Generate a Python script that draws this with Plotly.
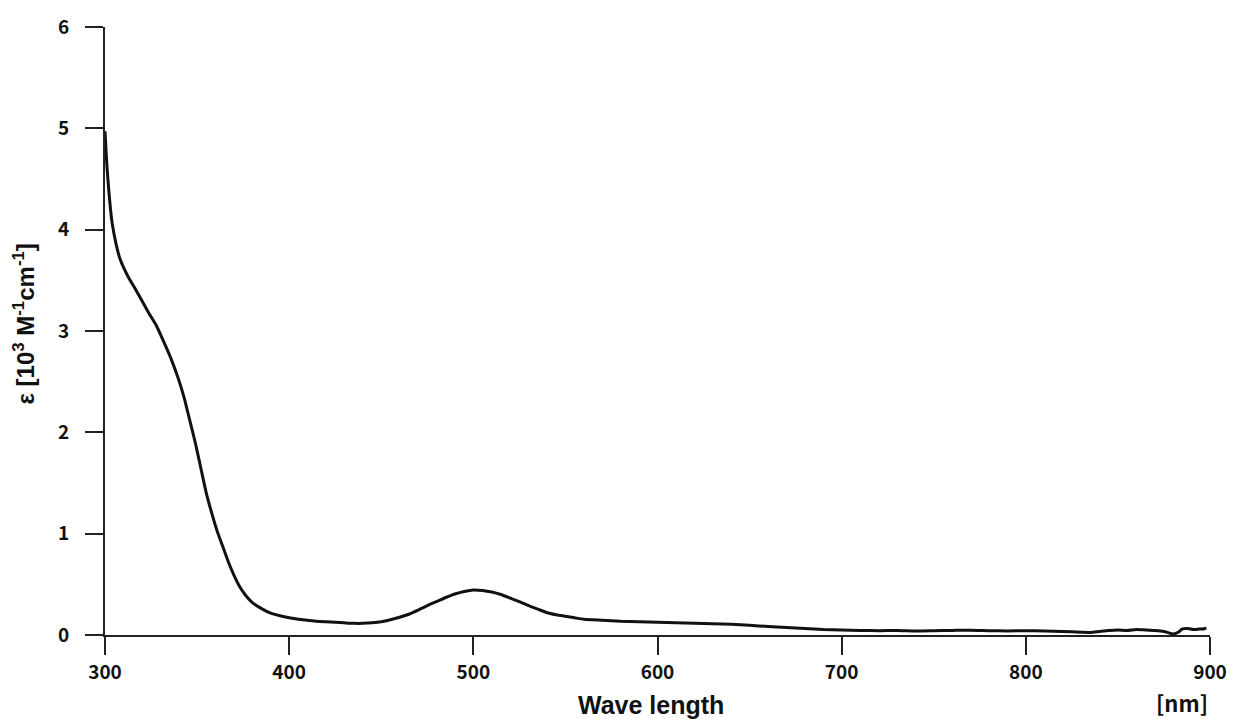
import plotly.graph_objects as go

# Absorption spectrum: wavelength (nm) vs molar absorptivity (10^3 M^-1 cm^-1)
wavelength = [
    300, 301, 302, 303, 304, 306, 308, 310, 313, 316, 320, 324, 328, 332, 336,
    340, 343, 346, 349, 352, 355, 358, 361, 364, 367, 370, 373, 376, 380, 385,
    390, 395, 400, 405, 410, 415, 420, 425, 430, 435, 440, 445, 450, 455, 460,
    465, 470, 475, 480, 485, 490, 495, 500, 505, 510, 515, 520, 525, 530, 535,
    540, 545, 550, 555, 560, 570, 580, 590, 600, 610, 620, 630, 640, 650, 660,
    670, 680, 690, 700, 710, 720, 730, 740, 750, 760, 770, 780, 790, 800, 810,
    820, 830, 835, 840, 845, 850, 855, 860, 865, 870, 875, 880, 883, 885, 888,
    891, 894, 897, 898,
]
epsilon = [
    4.97, 4.64, 4.40, 4.20, 4.05, 3.86, 3.72, 3.63, 3.52, 3.43, 3.30, 3.17, 3.05, 2.89, 2.72,
    2.52, 2.34, 2.12, 1.90, 1.65, 1.40, 1.20, 1.02, 0.87, 0.72, 0.59, 0.48, 0.40, 0.32, 0.26,
    0.215, 0.19, 0.17, 0.155, 0.145, 0.135, 0.13, 0.125, 0.12, 0.115, 0.115, 0.12, 0.13, 0.15, 0.175,
    0.205, 0.245, 0.29, 0.33, 0.37, 0.405, 0.43, 0.445, 0.44, 0.425, 0.40, 0.365, 0.33, 0.29, 0.255,
    0.22, 0.20, 0.185, 0.17, 0.155, 0.145, 0.135, 0.13, 0.125, 0.12, 0.115, 0.11, 0.105, 0.095, 0.085,
    0.075, 0.065, 0.055, 0.05, 0.045, 0.042, 0.045, 0.04, 0.042, 0.045, 0.048, 0.043, 0.04, 0.042, 0.04,
    0.035, 0.028, 0.025, 0.035, 0.045, 0.05, 0.045, 0.055, 0.05, 0.045, 0.035, 0.01, 0.03, 0.06, 0.065,
    0.055, 0.058, 0.062, 0.07,
]

x_ticks = [300, 400, 500, 600, 700, 800, 900]
y_ticks = [0, 1, 2, 3, 4, 5, 6]

axis_color = "#222222"
tick_font = dict(family="Noto Sans CJK JP", size=19, color="#111111", weight="bold")

fig = go.Figure()
fig.add_trace(go.Scatter(
    x=wavelength, y=epsilon, mode="lines",
    line=dict(color="#111111", width=3, shape="spline", smoothing=0.5),
    hoverinfo="skip", showlegend=False,
))

fig.update_layout(
    width=1239, height=723,
    margin=dict(l=105, r=28, t=19, b=88),
    paper_bgcolor="white", plot_bgcolor="white",
    xaxis=dict(
        range=[300, 900], tickvals=x_ticks, ticktext=[str(v) for v in x_ticks],
        showgrid=False, zeroline=False, showline=True, linecolor=axis_color, linewidth=2,
        ticks="outside", ticklen=18, tickwidth=2, tickcolor=axis_color,
        tickfont=tick_font, ticklabelstandoff=1,
    ),
    yaxis=dict(
        range=[0, 6], tickvals=y_ticks, ticktext=[str(v) for v in y_ticks],
        showgrid=False, zeroline=False, showline=True, linecolor=axis_color, linewidth=2,
        ticks="outside", ticklen=18, tickwidth=2, tickcolor=axis_color,
        tickfont=tick_font, ticklabelstandoff=12,
    ),
    annotations=[
        dict(text="Wave length", xref="paper", yref="paper",
             x=0.494, y=-0.115, xanchor="center", yanchor="middle",
             showarrow=False,
             font=dict(family="Liberation Sans", size=25, color="#111111", weight="bold")),
        dict(text="[nm]", xref="paper", yref="paper",
             x=1.0, y=-0.11, xanchor="right", yanchor="middle",
             showarrow=False,
             font=dict(family="Noto Sans CJK JP", size=22, color="#111111", weight="bold")),
        dict(text="ε [10<sup>3</sup> M<sup>-1</sup>cm<sup>-1</sup>]",
             xref="paper", yref="paper", x=-0.0735, y=0.512,
             xanchor="center", yanchor="middle", textangle=-90,
             showarrow=False,
             font=dict(family="Liberation Sans", size=24, color="#111111", weight="bold")),
    ],
)

fig.write_html("out.html")
